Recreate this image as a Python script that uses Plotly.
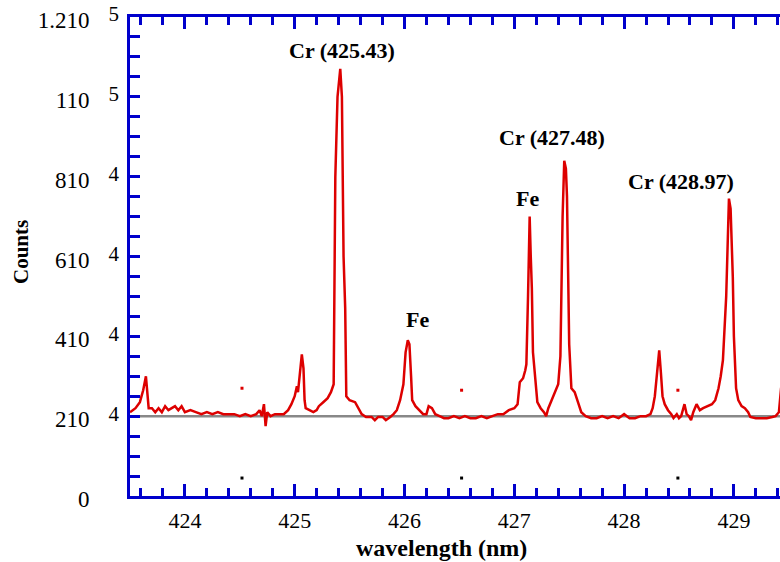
import plotly.graph_objects as go

# ---- spectrum data (wavelength nm, counts) ----
wavelength = [
    423.50, 423.55, 423.59, 423.62, 423.645, 423.66, 423.67, 423.70, 423.73, 423.76,
    423.79, 423.82, 423.85, 423.88, 423.91, 423.94, 423.97, 424.00, 424.05, 424.10,
    424.15, 424.20, 424.25, 424.30, 424.35, 424.40, 424.45, 424.50, 424.55, 424.60,
    424.65, 424.68, 424.70, 424.72, 424.735, 424.75, 424.78, 424.82, 424.86, 424.90,
    424.94, 424.97, 425.00, 425.02, 425.03, 425.05, 425.065, 425.08, 425.09, 425.10,
    425.13, 425.17, 425.20, 425.22, 425.26, 425.30, 425.33, 425.355, 425.37, 425.39,
    425.415, 425.43, 425.445, 425.46, 425.47, 425.50, 425.55, 425.58, 425.61, 425.65,
    425.70, 425.73, 425.76, 425.80, 425.83, 425.87, 425.90, 425.93, 425.96, 425.99,
    426.01, 426.03, 426.045, 426.06, 426.07, 426.10, 426.14, 426.17, 426.20, 426.22,
    426.25, 426.28, 426.32, 426.36, 426.40, 426.45, 426.50, 426.55, 426.60, 426.65,
    426.70, 426.75, 426.80, 426.85, 426.90, 426.95, 427.00, 427.03, 427.05, 427.08,
    427.10, 427.11, 427.125, 427.14, 427.15, 427.16, 427.17, 427.19, 427.21, 427.24,
    427.27, 427.29, 427.31, 427.34, 427.37, 427.40, 427.42, 427.44, 427.455, 427.47,
    427.48, 427.49, 427.50, 427.52, 427.55, 427.58, 427.61, 427.65, 427.70, 427.75,
    427.80, 427.85, 427.90, 427.95, 428.00, 428.05, 428.10, 428.15, 428.20, 428.24,
    428.26, 428.28, 428.30, 428.32, 428.335, 428.35, 428.37, 428.40, 428.43, 428.45,
    428.48, 428.50, 428.52, 428.55, 428.57, 428.59, 428.61, 428.63, 428.66, 428.69,
    428.72, 428.76, 428.80, 428.83, 428.86, 428.88, 428.90, 428.93, 428.955, 428.97,
    428.99, 429.00, 429.02, 429.04, 429.07, 429.10, 429.13, 429.15, 429.20, 429.25,
    429.30, 429.35, 429.38, 429.41, 429.43, 429.46, 429.50,
]
counts = [
    21000, 22000, 23500, 26500, 30000, 25000, 22000, 22000, 21000, 22000,
    21000, 22500, 21500, 22000, 22500, 21500, 22500, 21000, 21500, 21000,
    20500, 21000, 20500, 21000, 20500, 20500, 20500, 20000, 20500, 20000,
    20500, 21500, 20000, 23000, 17500, 21000, 20000, 20500, 20500, 20500,
    21500, 23000, 25000, 27500, 26000, 32000, 35500, 32000, 24000, 22000,
    21500, 21000, 21500, 22500, 23500, 24500, 26000, 28000, 80000, 100000,
    107000, 100000, 60000, 47000, 25000, 24000, 23500, 22000, 20500, 19800,
    19800, 19000, 19800, 19800, 19000, 19800, 20500, 21500, 24000, 28000,
    36000, 39000, 38000, 30000, 24000, 22500, 21500, 20500, 20500, 22500,
    22000, 20500, 20000, 19500, 19500, 20000, 19500, 20000, 19500, 19500,
    20000, 19500, 20000, 20500, 20500, 21500, 22000, 23000, 28500, 29500,
    31500, 33000, 50000, 70000, 60000, 52000, 36000, 30000, 23500, 22000,
    21000, 20000, 22000, 24000, 26000, 28000, 35000, 70000, 84000, 82000,
    75000, 50000, 38000, 27000, 26000, 23500, 21000, 20000, 19500, 19500,
    20000, 19500, 20000, 19500, 20500, 19500, 19500, 20000, 20000, 20500,
    22000, 25000, 31000, 36500, 31000, 25000, 23000, 21500, 20500, 19500,
    20500, 19500, 20000, 23000, 20500, 20000, 19000, 21000, 23000, 21500,
    22000, 22500, 23000, 24000, 27000, 30000, 34000, 50000, 74500, 72000,
    55000, 40000, 27000, 24000, 22500, 22000, 21000, 19800, 19500, 19500,
    19500, 19800, 20000, 21000, 27000, 32000, 36000,
]

baseline_x = [423.5, 429.6]
baseline_y = [20000, 20000]

red_dot_x = [424.52, 426.52, 428.49]
red_dot_y = [27000, 26500, 26500]
black_dot_x = [424.52, 426.52, 428.49]
black_dot_y = [4500, 4500, 4500]

x_tickvals = [424, 425, 426, 427, 428, 429]
x_ticktext = ["424", "425", "426", "427", "428", "429"]
y_tickvals = [0, 20000, 40000, 60000, 80000, 100000, 120000]
y_mantissa = ["0", "210", "410", "610", "810", "110", "1.210"]
y_exponent = ["", "4", "4", "4", "4", "5", "5"]

peak_labels = ["Cr (425.43)", "Fe", "Cr (427.48)", "Fe", "Cr (428.97)"]
peak_label_x = [425.43, 426.12, 427.34, 427.12, 428.52]
peak_label_y = [111500, 44250, 89750, 74500, 78750]

BLUE = "#0000cc"
RED = "#dd0000"
FONT = "Liberation Serif"

fig = go.Figure()
fig.add_trace(go.Scatter(x=baseline_x, y=baseline_y, mode="lines",
                         line=dict(color="#888888", width=2.5), hoverinfo="skip"))
fig.add_trace(go.Scatter(x=wavelength, y=counts, mode="lines",
                         line=dict(color=RED, width=2.5)))
fig.add_trace(go.Scatter(x=red_dot_x, y=red_dot_y, mode="markers",
                         marker=dict(color=RED, size=3, symbol="square")))
fig.add_trace(go.Scatter(x=black_dot_x, y=black_dot_y, mode="markers", yaxis="y2",
                         marker=dict(color="black", size=3, symbol="square")))

for t, x, y in zip(peak_labels, peak_label_x, peak_label_y):
    fig.add_annotation(x=x, y=y, text=t, showarrow=False, xref="x", yref="y",
                       font=dict(family=FONT, size=22, color="black", weight="bold"))

fig.add_annotation(x=-0.168, y=0.509, xref="paper", yref="paper", text="Counts",
                   textangle=-90, showarrow=False, xanchor="center", yanchor="middle",
                   font=dict(family=FONT, size=21, color="black", weight="bold"))
fig.add_annotation(x=0.479, y=-0.1086, xref="paper", yref="paper", text="wavelength (nm)",
                   showarrow=False, xanchor="center", yanchor="middle",
                   font=dict(family=FONT, size=24, color="black", weight="bold"))

fig.update_xaxes(range=[423.5, 429.42], showline=True, linecolor=BLUE, linewidth=3,
                 mirror="ticks", ticks="inside", ticklen=12, tickwidth=2.5, tickcolor=BLUE,
                 tickmode="array", tickvals=x_tickvals, ticktext=x_ticktext,
                 tickfont=dict(family=FONT, size=22, color="black"),
                 ticklabelstandoff=3, showgrid=False, zeroline=False,
                 minor=dict(tickmode="linear", tick0=423.6, dtick=0.2, ticks="inside",
                            ticklen=8, tickwidth=2.5, tickcolor=BLUE, showgrid=False))

fig.update_layout(
    yaxis=dict(range=[0, 120000], showline=True, linecolor=BLUE, linewidth=3,
               mirror=False, ticks="inside", ticklen=10, tickwidth=2.5, tickcolor=BLUE,
               tickmode="array", tickvals=y_tickvals, ticktext=y_mantissa,
               tickfont=dict(family=FONT, size=23, color="black"),
               ticklabelstandoff=33, ticklabelshift=3, ticklabeloverflow="allow",
               showgrid=False, zeroline=False,
               minor=dict(tickmode="linear", tick0=0, dtick=5000, ticks="inside",
                          ticklen=10, tickwidth=2.5, tickcolor=BLUE, showgrid=False)),
    yaxis2=dict(range=[0, 120000], overlaying="y", side="left", showline=False,
                ticks="", tickmode="array", tickvals=y_tickvals, ticktext=y_exponent,
                tickfont=dict(family=FONT, size=21, color="black"),
                ticklabelstandoff=10, ticklabelshift=-3, ticklabeloverflow="allow",
                showgrid=False, zeroline=False),
    width=780, height=562, autosize=False, showlegend=False,
    margin=dict(l=130, r=0, t=17, b=66),
    plot_bgcolor="white", paper_bgcolor="white")

fig.write_html("out.html", config={"displayModeBar": False},
               post_script="document.body.style.margin='0';document.body.style.overflow='hidden';")
